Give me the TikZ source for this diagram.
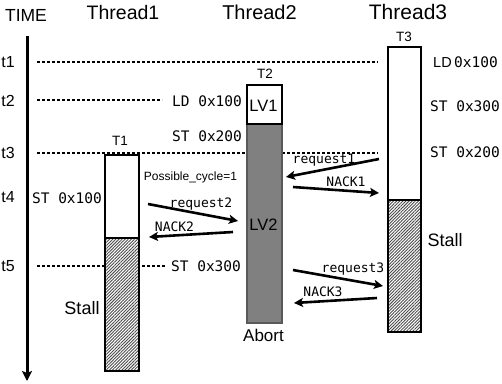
\documentclass[tikz,border=0pt]{standalone}
\usepackage{fontspec}
\setmainfont{Liberation Sans}
\newfontfamily\codefont{DejaVu Sans Mono}
\usetikzlibrary{arrows.meta,patterns.meta}

\tikzset{
  guide/.style={line width=1.3pt, dash pattern=on 3pt off 2pt},
  msg/.style={line width=2.6pt, -{Stealth[length=9pt,width=9pt,inset=2pt]}},
  opcode/.style={anchor=base, inner sep=0pt, font=\codefont\fontsize{14.5}{16}\selectfont},
  msglabel/.style={anchor=base, inner sep=0pt, font=\codefont\fontsize{13}{15}\selectfont},
  plain/.style={anchor=base, inner sep=0pt},
  txbox/.style={line width=2pt},
  stalled/.style={pattern={Lines[angle=45,distance=2.2pt,line width=0.9pt]}, pattern color=black!70},
}

\begin{document}
\begin{tikzpicture}[x=1pt, y=-1pt]
  \useasboundingbox (0,0) rectangle (502,383);

  % column headings
  \node[plain, font=\fontsize{17.5}{19}\selectfont] (timehead) at (26,21) {TIME};
  \node[plain, font=\fontsize{19.5}{22}\selectfont] (th1) at (123,19) {Thread1};
  \node[plain, font=\fontsize{20}{22}\selectfont] (th2) at (259.5,19) {Thread2};
  \node[plain, font=\fontsize{21}{23}\selectfont] (th3) at (408,19) {Thread3};

  % time axis
  \coordinate (axtop) at (27,36);
  \coordinate (axbot) at (27,381);
  \draw[line width=3pt, -{Stealth[length=10pt,width=10pt,inset=2pt]}] (axtop) -- (axbot);

  % time marks
  \foreach \lab/\yb in {t1/67, t2/106, t3/158.3, t4/202.7, t5/271.7}
    \node[plain, font=\fontsize{16}{18}\selectfont] (\lab) at (8,\yb) {\lab};

  % horizontal guides
  \coordinate (g1a) at (37,62);  \coordinate (g1b) at (378,62);
  \coordinate (g2a) at (37,100); \coordinate (g2b) at (162,100);
  \coordinate (g3a) at (37,153); \coordinate (g3b) at (378,153);
  \coordinate (g5a) at (37,266); \coordinate (g5b) at (165,266);
  \draw[guide] (g1a) -- (g1b);
  \draw[guide] (g2a) -- (g2b);
  \draw[guide] (g3a) -- (g3b);
  \draw[guide] (g5a) -- (g5b);

  % transaction T1
  \draw[txbox, fill=white] (105,155) rectangle (139,238);
  \fill[white] (105,238) rectangle (139,371);
  \fill[stalled] (105,238) rectangle (139,371);
  \draw[txbox] (105,238) rectangle (139,371);

  % transaction T2
  \draw[fill=gray, draw=black!65, line width=1.5pt] (247,124) rectangle (282,323);
  \draw[txbox, fill=white] (247,85) rectangle (282,124);

  % transaction T3
  \draw[txbox, fill=white] (388,47) rectangle (421,200);
  \fill[white] (388,200) rectangle (421,332);
  \fill[stalled] (388,200) rectangle (421,332);
  \draw[txbox] (388,200) rectangle (421,332);

  % box labels
  \node[plain, font=\fontsize{13.5}{15}\selectfont] (lt1) at (120,145) {T1};
  \node[plain, font=\fontsize{13.5}{15}\selectfont] (lt2) at (265,78.5) {T2};
  \node[plain, font=\fontsize{13.5}{15}\selectfont] (lt3) at (404,41.7) {T3};
  \node[plain, font=\fontsize{16.5}{18}\selectfont] (lv1) at (263.5,111.7) {LV1};
  \node[plain, font=\fontsize{16.5}{18}\selectfont] (lv2) at (263.5,230) {LV2};
  \node[plain, font=\fontsize{17}{19}\selectfont] (abort) at (263.5,341.7) {Abort};
  \node[plain, font=\fontsize{18}{20}\selectfont] (stall1) at (82,314) {Stall};
  \node[plain, font=\fontsize{18}{20}\selectfont] (stall3) at (445,246.7) {Stall};
  \node[plain, font=\fontsize{12}{14}\selectfont] (pc) at (190.5,180.7) {Possible\_cycle=1};

  % memory operations
  \node[opcode] (op1) at (207,106) {LD 0x100};
  \node[opcode] (op2) at (207,141) {ST 0x200};
  \node[opcode] (op3) at (67,203) {ST 0x100};
  \node[opcode] (op4) at (206,271) {ST 0x300};
  \node[opcode, anchor=base west] (op5) at (433,67)
    {{\rmfamily\fontsize{14.5}{16}\selectfont LD}\,0x100};
  \node[opcode] (op6) at (465,111) {ST 0x300};
  \node[opcode] (op7) at (465,157) {ST 0x200};

  % coherence messages
  \coordinate (r1s) at (379,159); \coordinate (r1e) at (286,177);
  \coordinate (n1s) at (293,187); \coordinate (n1e) at (379,193);
  \coordinate (r2s) at (148,204); \coordinate (r2e) at (238,221);
  \coordinate (n2s) at (233,232); \coordinate (n2e) at (149,237);
  \coordinate (r3s) at (293,270); \coordinate (r3e) at (383,286);
  \coordinate (n3s) at (377,298); \coordinate (n3e) at (294,303);
  \draw[msg] (r1s) -- (r1e);
  \draw[msg] (n1s) -- (n1e);
  \draw[msg] (r2s) -- (r2e);
  \draw[msg] (n2s) -- (n2e);
  \draw[msg] (r3s) -- (r3e);
  \draw[msg] (n3s) -- (n3e);

  \node[msglabel] (mr1) at (324,163) {request1};
  \node[msglabel] (mn1) at (346,186) {NACK1};
  \node[msglabel] (mr2) at (201,207) {request2};
  \node[msglabel] (mn2) at (174.5,231) {NACK2};
  \node[msglabel] (mr3) at (353,272.5) {request3};
  \node[msglabel] (mn3) at (323,296.5) {NACK3};
\end{tikzpicture}
\end{document}
